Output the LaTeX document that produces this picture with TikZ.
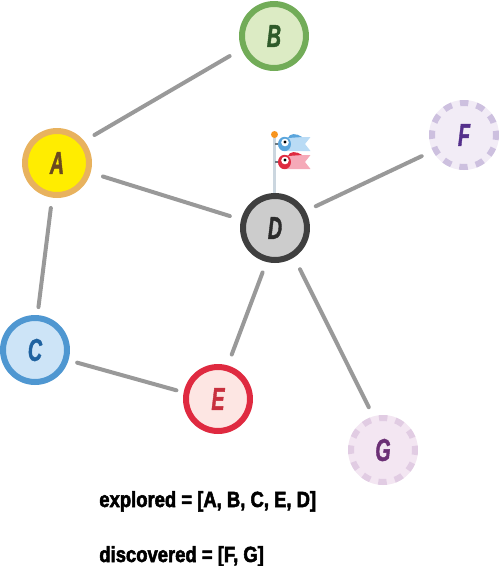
\documentclass[tikz,border=0pt]{standalone}
\usepackage{fontspec}
\usepackage{tikz}
\newfontfamily\vertexfont[FakeStretch=0.62,FakeBold=1.2]{Liberation Sans}
\newfontfamily\listfont[FakeStretch=0.84,FakeBold=2.4]{Liberation Sans}
\definecolor{EdgeGray}{HTML}{999999}
\definecolor{PoleGray}{HTML}{CBD6DF}
\definecolor{PegGray}{HTML}{6D7880}
\definecolor{FlagOrange}{HTML}{F7941D}
\definecolor{AFill}{HTML}{FFED00}
\definecolor{ALine}{HTML}{E8B25E}
\definecolor{AInk}{HTML}{6B4A1F}
\definecolor{BFill}{HTML}{DCEBC4}
\definecolor{BLine}{HTML}{72AC58}
\definecolor{BInk}{HTML}{2F5A2A}
\definecolor{CFill}{HTML}{CDE4F7}
\definecolor{CLine}{HTML}{4F97D1}
\definecolor{CInk}{HTML}{1F62A0}
\definecolor{DFill}{HTML}{CCCCCC}
\definecolor{DLine}{HTML}{3F3F3F}
\definecolor{DInk}{HTML}{2B2B2B}
\definecolor{EFill}{HTML}{FDE6E3}
\definecolor{ELine}{HTML}{DF2A40}
\definecolor{EInk}{HTML}{C8303E}
\definecolor{FFill}{HTML}{F2ECF6}
\definecolor{FLine}{HTML}{CDC0DF}
\definecolor{FInk}{HTML}{55308C}
\definecolor{GFill}{HTML}{F3E6F2}
\definecolor{GLine}{HTML}{E1CCE3}
\definecolor{GInk}{HTML}{6B2F75}
\definecolor{BlueHead}{HTML}{5AA5DC}
\definecolor{BlueTail}{HTML}{B9DBF5}
\definecolor{RedHead}{HTML}{DF2A40}
\definecolor{RedTail}{HTML}{F5A9B8}
\tikzset{
  vertex/.style={circle,minimum size=1.28cm,inner sep=0pt,line width=0.12cm,
    font=\vertexfont\fontsize{18}{18}\bfseries\itshape},
  unseen/.style={vertex,dash pattern=on 4.75pt off 4.75pt,dash phase=2.375pt},
  link/.style={EdgeGray,line width=0.08cm,line cap=round},
  listing/.style={anchor=base west,inner sep=0pt,font=\listfont\fontsize{12.5}{12.5}\bfseries}
}
\begin{document}
\begin{tikzpicture}[x=0.02cm,y=-0.02cm]
    \useasboundingbox (0,0) rectangle (500,566);

    \foreach \name/\x/\y in {A/57/163,B/274/36,C/35/350,D/275/228,E/218/399} {
      \node[vertex,draw=\name Line,fill=\name Fill,text=\name Ink] (\name) at (\x,\y) {\name};
    }
    \foreach \name/\x/\y in {F/464/135,G/383/450} {
      \node[unseen,draw=\name Line,fill=\name Fill,text=\name Ink,
            preaction={draw=\name Fill,solid}] (\name) at (\x,\y) {\name};
    }

    % anchor angle and gap at each end of a link
    \foreach \from/\fa/\fs/\to/\ta/\ts in {A/39/11.9/B/202/13.8,A/344/12.9/D/166.6/11.7,
        A/262.4/10.4/C/86.4/8.1,C/343/9/E/169.8/7.5,D/256.8/11.2/E/74.7/11.6,
        D/29.2/11.3/F/207.7/12.3,D/303.5/13.3/G/106/10.2} {
      \draw[link,shorten <=\fs*0.02cm,shorten >=\ts*0.02cm] (\from.\fa) -- (\to.\ta);
    }

    % flag on D
    \draw[PoleGray,line width=0.05cm] (274.5,135) -- (274.5,193);
    \fill[FlagOrange] (274.5,134.5) circle[radius=3.5];
    \foreach \y/\head/\tail in {144/BlueHead/BlueTail,162/RedHead/RedTail} {
      \draw[PegGray,line width=0.04cm] (275,\y) -- (280,\y);
      \fill[\tail] (285,\y-7) -- (310.5,\y-7) -- (305,\y) -- (310.5,\y+7) -- (285,\y+7) -- cycle;
      \fill[\head] (288,\y-6) .. controls (289,\y-11) and (297,\y-11) .. (302,\y-7) -- cycle;
      \fill[\head] (284.5,\y) ellipse[x radius=6.5,y radius=7.2];
      \fill[white] (285,\y-1.5) circle[radius=3.8];
      \fill[black] (285,\y-2) circle[radius=1.7];
    }

    \node[listing] (explored) at (99,507) {explored = [A, B, C, E, D]};
    \node[listing] (discovered) at (99,562) {discovered = [F, G]};
  \end{tikzpicture}
\end{document}
